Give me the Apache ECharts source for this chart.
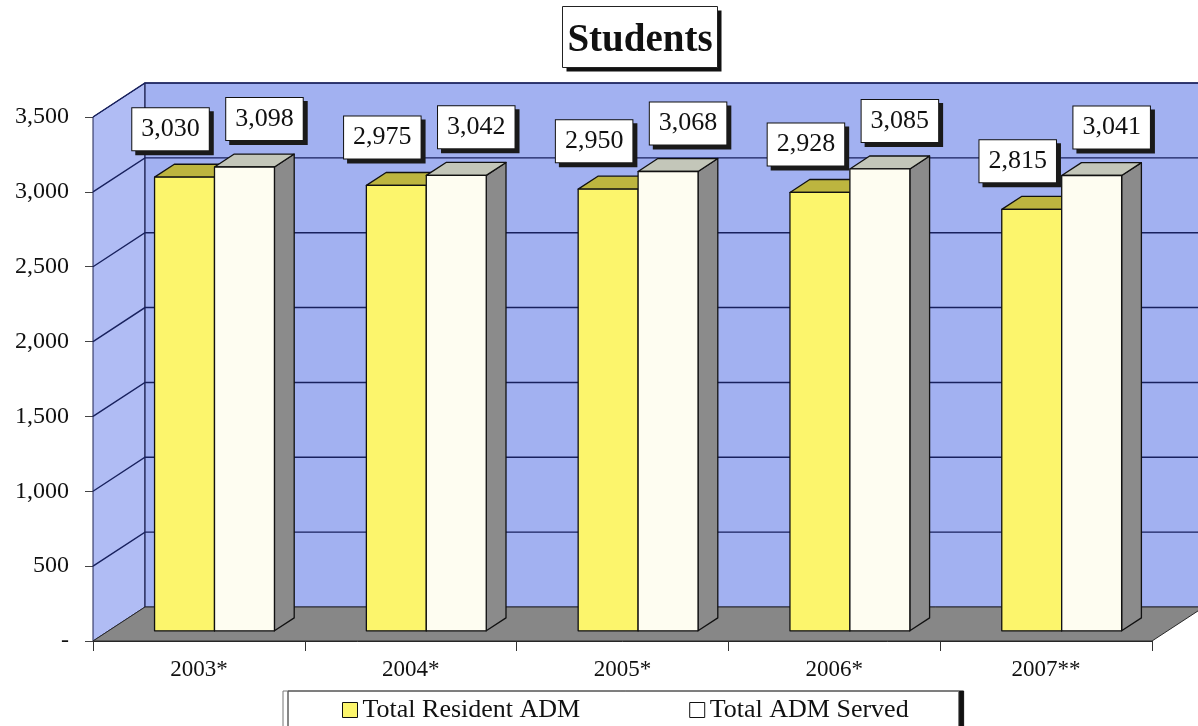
<!DOCTYPE html>
<html>
<head>
<meta charset="utf-8">
<script src="https://cdn.jsdelivr.net/npm/echarts@6/dist/echarts.min.js"></script>
<style>
  html, body { margin: 0; padding: 0; background: #ffffff; }
  #chart { width: 1198px; height: 726px; }
</style>
</head>
<body>
<div id="chart"></div>
<script>
// Average daily membership per school year
const categories = ['2003*', '2004*', '2005*', '2006*', '2007**'];
const residentADM = [3030, 2975, 2950, 2928, 2815];
const admServed = [3098, 3042, 3068, 3085, 3041];
const yTicks = [0, 500, 1000, 1500, 2000, 2500, 3000, 3500];
const seriesNames = ['Total Resident ADM', 'Total ADM Served'];
const chartTitle = 'Students';

const SERIF = '"Liberation Serif", "Times New Roman", serif';

// Oblique 3-D box: offset of the back wall from the front plane
const DX = 52, DY = -34;
// Bars occupy this slice of the box depth
const BAR_NEAR = 0.3, BAR_FAR = 0.68;
// Width of one bar face as a share of the category band
const BAR_FRAC = 0.283;

const fmt = v => (v === 0 ? '-' : v.toLocaleString('en-US'));

const palette = [
  { front: '#fcf56c', top: '#bdb53f', side: '#8e8a35', labelDx: -14 },
  { front: '#fefdf1', top: '#c3c6b9', side: '#8b8b8b', labelDx: 20 }
];

// Walls, floor and gridlines of the 3-D box
function renderWalls(params, api) {
  const cs = params.coordSys;
  const x0 = cs.x, x1 = cs.x + cs.width;
  const yBase = api.coord([0, 0])[1];
  const yTop = api.coord([0, yTicks[yTicks.length - 1]])[1];
  const children = [];
  children.push({
    type: 'polygon',
    shape: { points: [[x0, yTop], [x0 + DX, yTop + DY], [x0 + DX, yBase + DY], [x0, yBase]] },
    style: { fill: '#b0bcf4', stroke: '#1c2050', lineWidth: 1 }
  });
  children.push({
    type: 'polygon',
    shape: { points: [[x0 + DX, yTop + DY], [x1 + DX, yTop + DY], [x1 + DX, yBase + DY], [x0 + DX, yBase + DY]] },
    style: { fill: '#a2b1f1', stroke: '#1c2050', lineWidth: 1.2 }
  });
  children.push({
    type: 'polygon',
    shape: { points: [[x0, yBase], [x1, yBase], [x1 + DX, yBase + DY], [x0 + DX, yBase + DY]] },
    style: { fill: '#878787', stroke: '#2a2a2a', lineWidth: 1 }
  });
  yTicks.forEach(v => {
    if (v === 0) return;
    const y = api.coord([0, v])[1];
    children.push({
      type: 'polyline',
      shape: { points: [[x0, y], [x0 + DX, y + DY], [x1 + DX, y + DY]] },
      style: { stroke: '#18215e', lineWidth: 1.4, fill: null }
    });
  });
  return { type: 'group', children };
}

// One 3-D column per data item; side 0 sits left of the band centre, side 1 right
function makeBarRenderer(side) {
  const c = palette[side];
  return function (params, api) {
    const i = api.value(0);
    const v = api.value(1);
    const band = api.size([1, 0])[0];
    const w = band * BAR_FRAC;
    const base = api.coord([i, 0]);
    const top = api.coord([i, v]);
    const nx = BAR_NEAR * DX, ny = BAR_NEAR * DY;
    const dx = (BAR_FAR - BAR_NEAR) * DX, dy = (BAR_FAR - BAR_NEAR) * DY;
    const l = base[0] + nx + (side === 0 ? -w : 0);
    const r = l + w;
    const yb = base[1] + ny;
    const yt = top[1] + ny;
    const edge = { stroke: '#111', lineWidth: 1.3, lineJoin: 'round' };
    return {
      type: 'group',
      children: [
        { type: 'polygon', shape: { points: [[r, yt], [r + dx, yt + dy], [r + dx, yb + dy], [r, yb]] },
          style: Object.assign({ fill: c.side }, edge) },
        { type: 'polygon', shape: { points: [[l, yt], [r, yt], [r + dx, yt + dy], [l + dx, yt + dy]] },
          style: Object.assign({ fill: c.top }, edge) },
        { type: 'rect', shape: { x: l, y: yt, width: w, height: yb - yt },
          style: Object.assign({ fill: c.front }, edge) },
        { type: 'text', x: (l + r) / 2 + c.labelDx, y: yt - 27, z2: 50,
          style: {
            text: fmt(v), font: '26px ' + SERIF, fill: '#111',
            align: 'center', verticalAlign: 'bottom',
            backgroundColor: '#ffffff', borderColor: '#111', borderWidth: 1,
            padding: [8, 9, 8, 9],
            shadowColor: '#1a1a1a', shadowOffsetX: 4, shadowOffsetY: 4, shadowBlur: 0
          } }
      ]
    };
  };
}

const chart = echarts.init(document.getElementById('chart'), null, { renderer: 'canvas' });

chart.setOption({
  backgroundColor: '#ffffff',
  animation: false,
  graphic: [
    {
      type: 'group', left: 562, top: 6,
      children: [
        { type: 'rect', shape: { x: 4, y: 4, width: 155, height: 61 }, style: { fill: '#111' } },
        { type: 'rect', shape: { x: 0, y: 0, width: 155, height: 61 },
          style: { fill: '#ffffff', stroke: '#222', lineWidth: 1 } },
        { type: 'text', x: 77.5, y: 34,
          style: { text: chartTitle, font: 'bold 39px ' + SERIF, fill: '#111',
                   align: 'center', verticalAlign: 'middle' } }
      ]
    }
  ],
  legend: {
    left: 283, top: 691,
    data: [
      { name: seriesNames[0], itemStyle: { color: palette[0].front, borderColor: '#111', borderWidth: 1 } },
      { name: seriesNames[1], itemStyle: { color: '#ffffff', borderColor: '#111', borderWidth: 1 } }
    ],
    icon: 'rect', itemWidth: 15, itemHeight: 15, itemGap: 109,
    textStyle: { fontFamily: SERIF, fontSize: 26, color: '#111' },
    backgroundColor: '#ffffff', borderColor: '#777', borderWidth: 1,
    padding: [6, 50, 12, 59],
    shadowColor: '#111', shadowOffsetX: 5, shadowOffsetY: 0, shadowBlur: 0,
    selectedMode: false
  },
  grid: { left: 93, right: 46, top: 117, bottom: 85 },
  xAxis: {
    type: 'category',
    data: categories,
    boundaryGap: true,
    axisLine: { show: true, lineStyle: { color: '#222', width: 1 } },
    axisTick: { show: true, interval: 0, length: 10, lineStyle: { color: '#333' } },
    axisLabel: { fontFamily: SERIF, fontSize: 23, color: '#111', margin: 17 },
    splitLine: { show: false }
  },
  yAxis: {
    type: 'value',
    min: 0, max: 3500, interval: 500,
    axisLine: { show: true, lineStyle: { color: '#222', width: 1 } },
    axisTick: { show: true, length: 8, lineStyle: { color: '#444' } },
    axisLabel: { fontFamily: SERIF, fontSize: 24, color: '#111', margin: 24, formatter: fmt },
    splitLine: { show: false }
  },
  series: [
    {
      type: 'custom', name: '__walls', silent: true, z: 1,
      renderItem: renderWalls, data: [[0, 0]], clip: false, legendHoverLink: false
    },
    {
      type: 'custom', name: seriesNames[0], z: 2,
      itemStyle: { color: palette[0].front },
      renderItem: makeBarRenderer(0),
      data: residentADM.map((v, i) => [i, v]),
      encode: { x: 0, y: 1 }
    },
    {
      type: 'custom', name: seriesNames[1], z: 3,
      itemStyle: { color: '#ffffff' },
      renderItem: makeBarRenderer(1),
      data: admServed.map((v, i) => [i, v]),
      encode: { x: 0, y: 1 }
    }
  ]
});
</script>
</body>
</html>
